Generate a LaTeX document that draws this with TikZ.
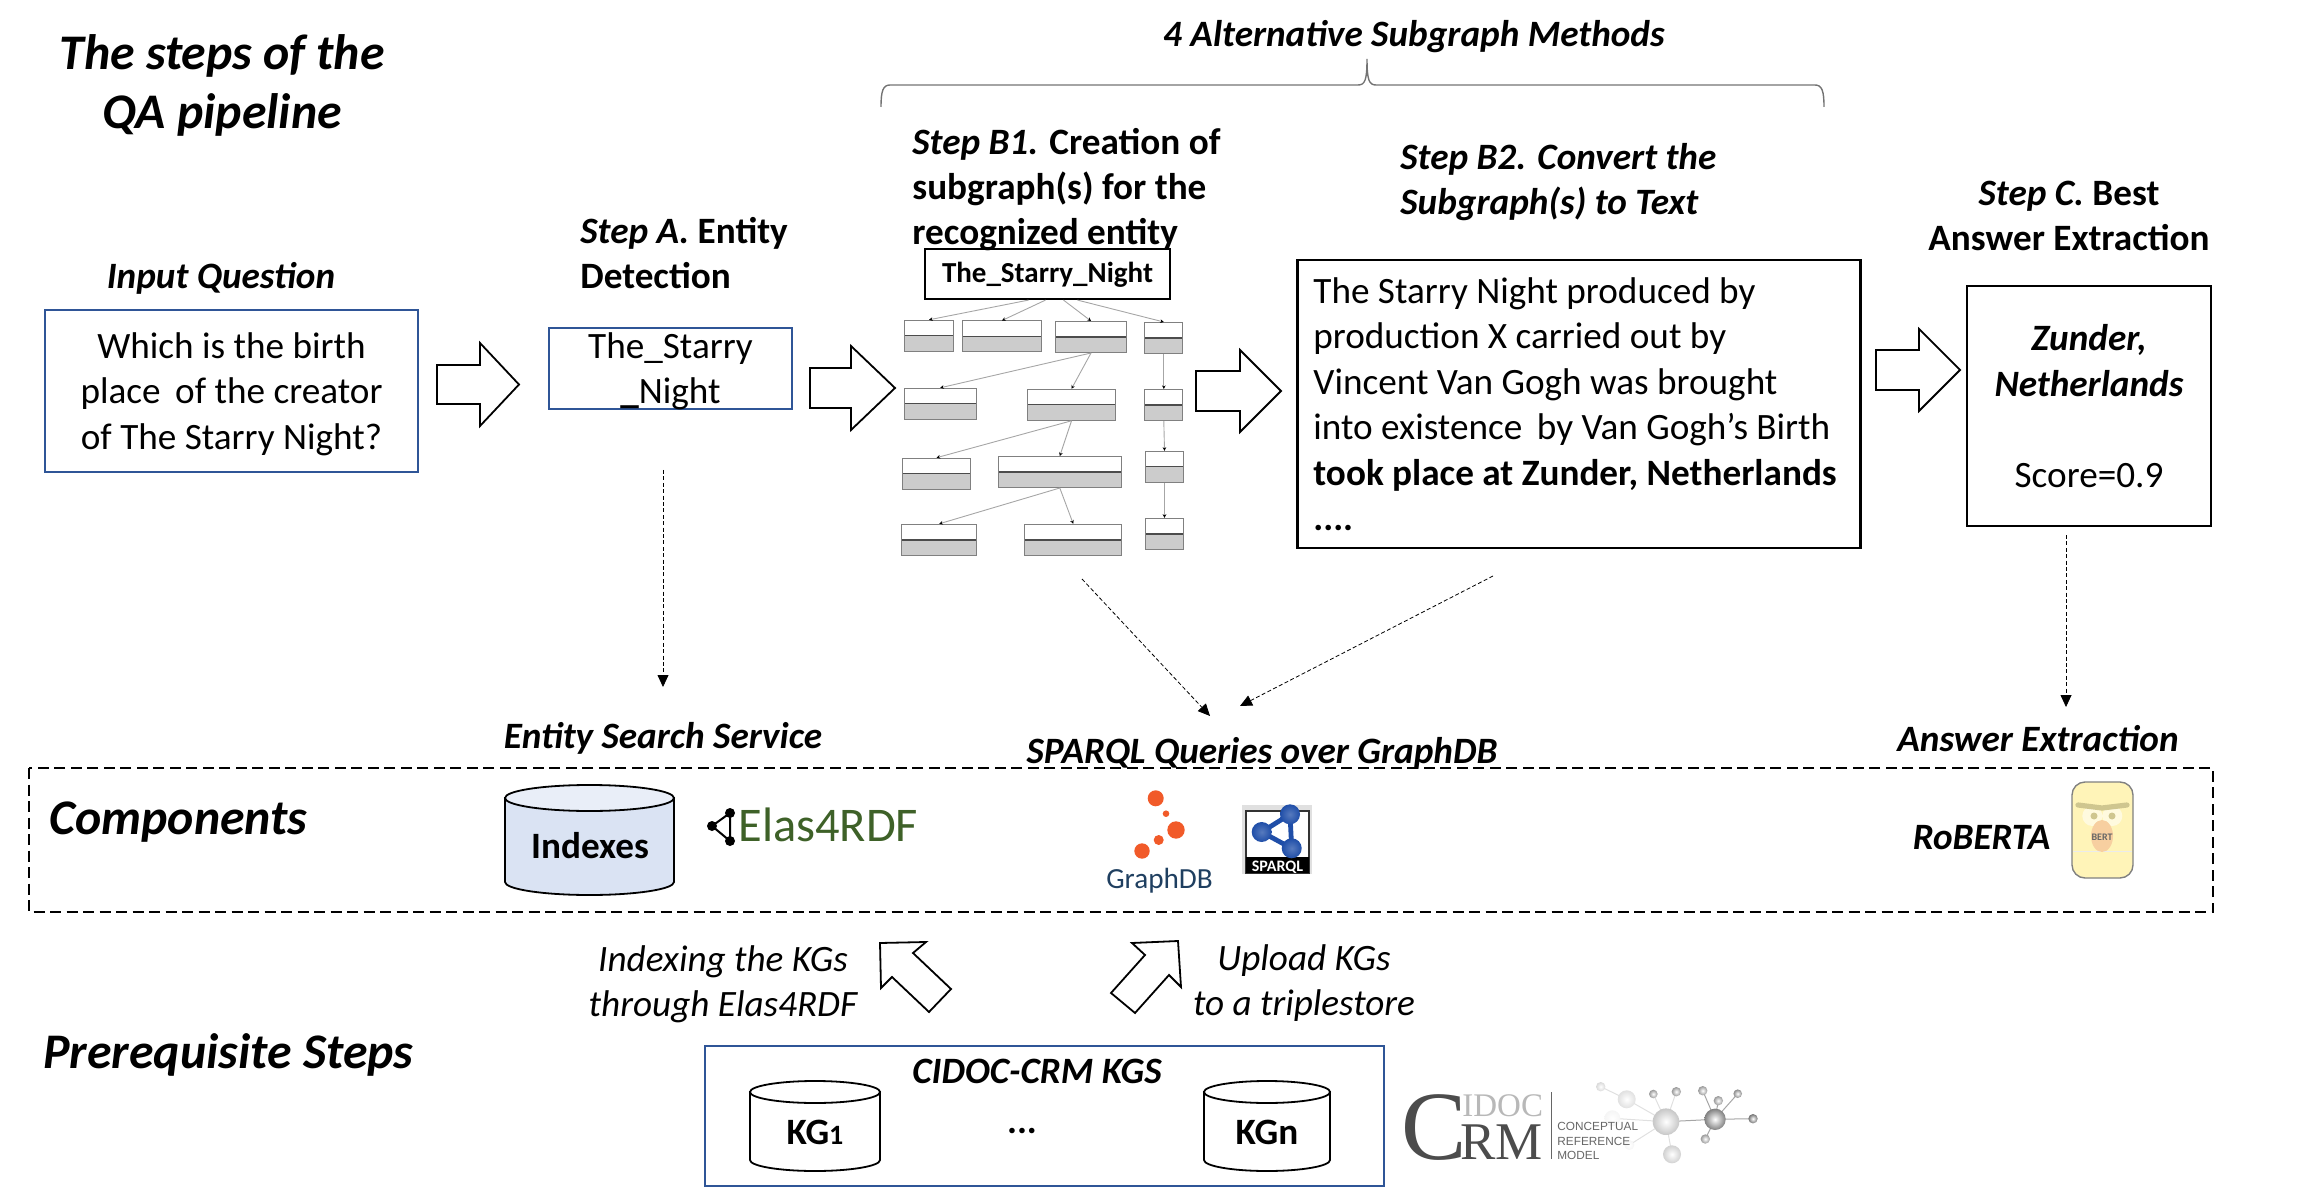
\documentclass[tikz,border=0pt]{standalone}
\usepackage{fontspec}
\setmainfont{Carlito}
\newfontfamily\crmfont{Liberation Serif}
\newfontfamily\crmsans{Liberation Sans}
\usetikzlibrary{arrows.meta,calc}

\definecolor{boxblue}{HTML}{2F5597}
\definecolor{cylbody}{HTML}{DAE3F3}
\definecolor{cyltop}{HTML}{E9EEF8}
\definecolor{elasgreen}{HTML}{3E6128}
\definecolor{dbnavy}{HTML}{1F3F60}
\definecolor{dborange}{HTML}{F15A29}
\definecolor{sparqlblue}{HTML}{1F4EA8}
\definecolor{bertyellow}{HTML}{FFF4B8}
\definecolor{bertbrow}{HTML}{CFC68F}
\definecolor{bertnose}{HTML}{F7CFA0}

\tikzset{
  txt/.style={inner sep=0pt,yshift=-0.75pt,font=\fontsize{18.6}{22.75}\selectfont},
  bold/.style={txt,font=\fontsize{18.6}{22.75}\selectfont\bfseries},
  boldit/.style={txt,font=\fontsize{18.6}{22.75}\selectfont\bfseries\itshape},
  lightit/.style={txt,font=\fontsize{18.6}{22.75}\selectfont\itshape},
  title/.style={txt,font=\fontsize{24.9}{29.5}\selectfont\bfseries\itshape},
  bluebox/.style={draw=boxblue,line width=1.2pt,inner sep=0pt},
  blackbox/.style={draw=black,line width=1.3pt,inner sep=0pt},
  fatarrow/.style={draw=black,line width=0.9pt,fill=white,line join=miter},
  dashlink/.style={line width=0.4pt,dash pattern=on 2pt off 1.2pt,-{Triangle[length=6pt,width=5.5pt]}},
  sublink/.style={draw=black!35,line width=0.45pt,-{Stealth[length=1.8pt,width=1.8pt,black]}},
  subbox/.style={draw=black!50,line width=0.5pt,inner sep=0pt,minimum height=15.5pt,
    path picture={
      \fill[black!20] (path picture bounding box.west) rectangle (path picture bounding box.south east);
      \draw[black!70,line width=0.7pt] (path picture bounding box.west) -- (path picture bounding box.east);
    }},
}

\begin{document}
\begin{tikzpicture}[x=0.5pt,y=-0.5pt]
  \useasboundingbox (0,0) rectangle (2297,1187);

  % headings
  \node [title,anchor=base] (T1) at (222,68) {The steps of the};
  \node [title,anchor=base] (T2) at (222,127) {QA pipeline};
  \node [boldit,anchor=base] (Tq) at (221,287) {Input Question};
  \node [bold,anchor=base west] (Ta1) at (580,242) {\itshape Step A.\upshape{} Entity};
  \node [bold,anchor=base west] (Ta2) at (580,287) {Detection};
  \node [boldit,anchor=base] (Tm) at (1414,45) {4 Alternative Subgraph Methods};
  \node [bold,anchor=base west] (Tb1) at (912,153) {\itshape Step B1.\upshape{} Creation of};
  \node [bold,anchor=base west] (Tb2) at (912,198) {subgraph(s) for the};
  \node [bold,anchor=base west] (Tb3) at (912,243) {recognized entity};
  \node [boldit,anchor=base west] (Tc1) at (1400,168) {Step B2. Convert the};
  \node [boldit,anchor=base west] (Tc2) at (1400,213) {Subgraph(s) to Text};
  \node [bold,anchor=base] (Td1) at (2069,204) {\itshape Step C.\upshape{} Best};
  \node [bold,anchor=base] (Td2) at (2069,249) {Answer Extraction};

  % the brace over B1 and B2
  \draw [black!55,line width=0.7pt] (881,107) .. controls (881,91) and (883,85) .. (890,85) -- (1358,85)
    .. controls (1365,85) and (1367,80) .. (1367,59) .. controls (1367,80) and (1369,85) .. (1376,85)
    -- (1815,85) .. controls (1822,85) and (1824,91) .. (1824,107);

  % pipeline boxes
  \node [bluebox,minimum width=186.5pt,minimum height=81pt] (Q) at (231.5,391) {};
  \node [txt,align=center] (Qt) at (231.5,392.5)
    {Which is the birth\\place\, of the creator\\of The Starry Night?};
  \node [bluebox,minimum width=121.5pt,minimum height=40.5pt] (E) at (670.5,368.5) {};
  \node [txt,align=center] (Et) at (670.5,370)
    {The\_Starry\\{\bfseries\_}Night};
  \node [blackbox,minimum width=281.5pt,minimum height=144pt] (S) at (1579,404) {};
  \node [txt,anchor=west,align=left] (St) at (1313,402.5)
    {The Starry Night produced by\\production X carried out by\\Vincent Van Gogh was brought\\into existence\, by Van Gogh’s Birth\\{\bfseries took place at Zunder, Netherlands}\\{\bfseries ....}};
  \node [blackbox,minimum width=122pt,minimum height=120pt] (R) at (2089,406) {};
  \node [txt,align=center] (Rt) at (2089,404.5)
    {{\bfseries\itshape Zunder,}\\{\bfseries\itshape Netherlands}\\[22.75pt]Score=0.9};

  \foreach\A/\B/\C/\M/\S/\H in {437/480/519/384.5/19.5/41.5,810/851/895/388/20/42,1196/1240/1281/391/20/41,1876/1919/1960/370/20/41}
    \draw [fatarrow] (\A,{\M-\S}) -- (\B,{\M-\S}) -- (\B,{\M-\H}) -- (\C,\M) -- (\B,{\M+\H}) -- (\B,{\M+\S}) -- (\A,{\M+\S}) -- cycle;

  % subgraph
  \node [draw=black,line width=1.1pt,minimum width=122.5pt,minimum height=25pt,inner sep=0pt,
    text height=12pt,text depth=3pt,
    font=\fontsize{14.5}{16}\selectfont\bfseries] (G) at (1047.5,274) {The\_Starry\_Night};
  \foreach\N/\X/\Y/\W in {a/929/335.8/49.4,b/1002/336.5/79.4,c/1091/337/71.4,d/1163.8/338/37.7,
    e/940.2/403.8/71.7,f/1071.5/404.8/87.6,g/1163.8/405/37.7,
    h/936.5/473.7/67.6,i/1059.8/472/123,j/1164.5/466.8/37.6,
    k/939.2/539.8/75,l/1073.2/539.8/97,m/1164.5/533.8/37.6}
    \node [subbox,minimum width=\W*0.5pt] (\N) at (\X,\Y) {};
  \foreach\S/\T/\D in {G/a/-9.5,G/b/-1,G/c/8,G/d/15}
    \draw [sublink] ([xshift=\D pt]\S.south) -- (\T.north);
  \foreach\S/\T in {c/e,c/f,d/g,f/h,f/i,g/j,i/k,i/l,j/m}
    \draw [sublink] (\S.south) -- (\T.north);

  % dashed links to the components
  \coordinate (A0) at (663,470);
  \coordinate (A1) at (663,687);
  \coordinate (B0) at (1082,579);
  \coordinate (B1) at (1210,716);
  \coordinate (C0) at (1493,576);
  \coordinate (C1) at (1240,706);
  \coordinate (D0) at (2066,535);
  \coordinate (D1) at (2066,707);
  \draw [dashlink] (A0) -- (A1);
  \draw [dashlink] (B0) -- (B1);
  \draw [dashlink] (C0) -- (C1);
  \draw [dashlink] (D0) -- (D1);

  % components
  \node [boldit,anchor=base] (Ts) at (663,747) {Entity Search Service};
  \node [boldit,anchor=base] (Tg) at (1262,762) {SPARQL Queries over GraphDB};
  \node [boldit,anchor=base] (Tx) at (2038,750) {Answer Extraction};
  \draw [line width=0.9pt,dash pattern=on 5.5pt off 2.75pt] (29,768) rectangle (2213,912);
  \node [title,anchor=base west] (Tco) at (49,833) {Components};

  \coordinate (e1) at (730,813);
  \coordinate (e2) at (712,826);
  \coordinate (e3) at (730,841);
  \draw [line width=1pt] (e1) -- (e2) -- (e3) -- cycle;
  \foreach\P in {e1,e2,e3}\fill[black](\P)circle(5);
  \node [txt,anchor=base west,text=elasgreen,font=\fontsize{24.2}{28}\selectfont] (Tel) at (738,840) {Elas4RDF};

  % GraphDB logo
  \foreach\X/\Y/\R in {1155.7/798.3/8,1166/813.7/3.3,1176/830/8.7,1158.7/840/5,1142/851/7.7}
    \fill[dborange](\X,\Y)circle(\R);
  \node [txt,anchor=base,text=dbnavy,font=\fontsize{14.6}{17}\selectfont] (Tdb) at (1159.5,887) {GraphDB};

  % SPARQL logo
  \fill[black!12] (1242,805) rectangle (1312,874);
  \draw[black!80,line width=0.8pt,fill=white] (1246,811) rectangle (1309,873);
  \fill[black] (1246,857) rectangle (1309,873);
  \node [txt,anchor=base,text=white,font=\fontsize{8}{9}\selectfont\bfseries] (Tsp) at (1277.5,870) {SPARQL};
  \coordinate (s1) at (1261.7,832);
  \coordinate (s2) at (1290,814.3);
  \coordinate (s3) at (1291.7,848.3);
  \draw [sparqlblue,line width=2.4pt] (s1) -- (s2) -- (s3) -- cycle;
  \foreach\P in {s1,s2,s3}\shade[inner color=sparqlblue!75!white,outer color=sparqlblue](\P)circle(10);

  % BERT
  \node [boldit,anchor=base] (Tro) at (1981.5,848) {RoBERTA};
  \draw[black!50,line width=0.7pt,fill=bertyellow,rounded corners=6.5pt] (2072,782) rectangle (2133,878);
  \draw[black!8,line width=0.3pt] (2073,851) -- (2132,851);
  \fill[white,opacity=.55] (2092.3,816) circle(10) (2112.3,816) circle(10);
  \fill[bertbrow] (2094,816) circle(3.5) (2112,816) circle(3.5);
  \draw[bertbrow,line width=2.6pt,line cap=round] (2078,805) -- (2102,808) -- (2127,805);
  \fill[bertnose] (2102,836) ellipse[x radius=5.5pt,y radius=8pt];
  \node [txt,anchor=base,text=black!60,font=\fontsize{5}{6}\selectfont\bfseries] (Tbe) at (2102,838.5) {BERT};

  % prerequisite part
  \node [lightit,anchor=base] (Ti1) at (723,970) {Indexing the KGs};
  \node [lightit,anchor=base] (Ti2) at (723,1015) {through Elas4RDF};
  \node [lightit,anchor=base] (Tu1) at (1304,969) {Upload KGs};
  \node [lightit,anchor=base] (Tu2) at (1304,1014) {to a triplestore};
  \draw [fatarrow] (880,943) -- (926,942) -- (913,953) -- (951,989) -- (929,1012) -- (892,977) -- (881,988) -- cycle;
  \draw [fatarrow] (1178,941) -- (1181,987) -- (1169,975) -- (1135,1013) -- (1111,993) -- (1145,955) -- (1132,943) -- cycle;
  \node [title,anchor=base west] (Tpr) at (43,1067) {Prerequisite Steps};
  \node [bluebox,minimum width=339.5pt,minimum height=70pt] (K) at (1044.5,1116) {};
  \node [boldit,anchor=base] (Tk) at (1037,1082) {CIDOC-CRM KGS};
  \foreach\X/\R/\U/\L/\Y/\B/\F in {589.5/84.5/798/882/13/cylbody/cyltop,815/65/1092/1160/11/white/white,1267/63/1092/1160/11/white/white}{
    \draw [line width=0.9pt,fill=\B] ({\X-\R},\U) -- ({\X-\R},\L)
      arc[start angle=180,end angle=360,x radius=\R*0.5pt,y radius=\Y*0.5pt] -- ({\X+\R},\U) -- cycle;
    \draw [line width=0.9pt,fill=\F] (\X,\U) ellipse[x radius=\R*0.5pt,y radius=\Y*0.5pt];
  }
  \node [bold,anchor=base] (Tix) at (590,857) {Indexes};
  \node [bold,anchor=base] (Tk1) at (815,1143) {KG{\fontsize{14}{16}\selectfont 1}};
  \node [bold,anchor=base] (Tkd) at (1022,1132) {...};
  \node [bold,anchor=base] (Tkn) at (1267,1143) {KGn};

  % CIDOC CRM logo
  \foreach\N/\X/\Y in {m1/1600.7/1086.7,m2/1626.7/1099.3,m3/1653.3/1094,m4/1676.3/1091.7,m5/1666/1121.7,m6/1672/1154.3,
    m7/1702.7/1090.7,m8/1718.3/1100.7,m9/1737.7/1093.7,m10/1715/1119.3,m11/1753/1118.7,m12/1705.3/1139,m13/1612.3/1118.3,m14/1629.3/1145}
    \coordinate (\N) at (\X,\Y);
  \foreach\S/\T in {m1/m2,m2/m5,m3/m5,m4/m5,m5/m6,m5/m13,m5/m14}
    \draw [black!12,line width=0.5pt] (\S) -- (\T);
  \foreach\S/\T in {m5/m10,m7/m10,m8/m10,m9/m10,m10/m11,m10/m12}
    \draw [black!35,line width=0.5pt] (\S) -- (\T);
  \foreach\P/\R/\C in {m1/4.7/15,m2/9/12,m13/8/4,m14/5/4,m6/9/18,m5/13.3/22,m3/4.3/40,m4/4.7/40,m7/4.7/40,m8/4.7/40,m9/4.3/45,m10/10.7/50,m11/4.7/55,m12/4.7/40}
    \shade[inner color=white,outer color=black!\C](\P)circle(\R);
  \node [txt,anchor=base west,text=black!70,font=\fontsize{49}{50}\crmfont\selectfont] (Tcc) at (1401,1158) {C};
  \node [txt,anchor=base west,text=black!28,font=\fontsize{16.5}{18}\crmfont\selectfont] (Tid) at (1462,1115) {IDOC};
  \node [txt,anchor=base west,text=black!70,font=\fontsize{26.5}{28}\crmfont\selectfont] (Trm) at (1460,1158) {RM};
  \draw [black!60,line width=0.4pt] (1551,1092) -- (1551,1159);
  \node [txt,anchor=base west,text=black!60,font=\fontsize{5.9}{7}\crmsans\selectfont] (Tl1) at (1557,1129) {CONCEPTUAL};
  \node [txt,anchor=base west,text=black!60,font=\fontsize{5.9}{7}\crmsans\selectfont] (Tl2) at (1557,1144) {REFERENCE};
  \node [txt,anchor=base west,text=black!60,font=\fontsize{5.9}{7}\crmsans\selectfont] (Tl3) at (1557,1158) {MODEL};
\end{tikzpicture}
\end{document}
